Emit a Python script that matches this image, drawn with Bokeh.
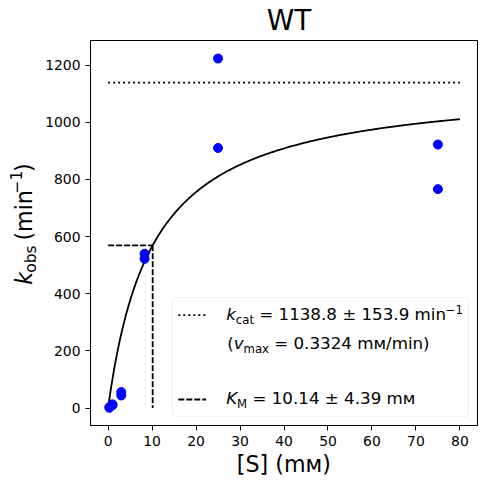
import numpy as np
from bokeh.plotting import figure
from bokeh.models import Label, BoxAnnotation, FixedTicker, Range1d
from bokeh.layouts import column, row
from bokeh.embed import file_html
from bokeh.resources import INLINE

# ---------------- data ----------------
title_text = "WT"
x_label_text = "[S] (mᴍ)"
S_mM = [0.3, 0.3, 1.0, 1.0, 3.0, 3.0, 8.3, 8.3, 25.0, 25.0, 75.0, 75.0]
k_obs = [1, 3, 10, 13, 44, 56, 522, 540, 910, 1223, 766, 922]
kcat = 1138.8
kcat_err = 153.9
vmax = 0.3324
KM = 10.14
KM_err = 4.39
S_fit_max = 80
x_ticks = [0, 10, 20, 30, 40, 50, 60, 70, 80]
y_ticks = [0, 200, 400, 600, 800, 1000, 1200]

# Michaelis-Menten curve from the fitted parameters
S_fit = np.linspace(0, S_fit_max, 400)
k_fit = kcat * S_fit / (KM + S_fit)

# ---------------- layout constants (page pixels) ----------------
FONT = "DejaVu Sans"
X0, X1 = -4.0, 84.0
Y0, Y1 = -61.0, 1286.0
FL, FT, FW, FH = 89, 40, 388, 385      # frame in page pixels
PW, PH = 486, 484
TOP_H = 39          # strip holding the title
LEFT_W = 42         # strip holding the y label
MAIN_BOTTOM = 27    # room for x tick labels
MAIN_W = PW - LEFT_W
MAIN_H = (FT - TOP_H) + FH + MAIN_BOTTOM
BOT_H = PH - TOP_H - MAIN_H   # strip holding the x label
BASE_CORR = 0.42    # em correction for Bokeh's alphabetic baseline


def strip(w, h):
    f = figure(width=w, height=h, output_backend="svg", toolbar_location=None,
               x_range=Range1d(0, w), y_range=Range1d(h, 0),
               x_axis_type=None, y_axis_type=None,
               min_border=0, min_border_left=0, min_border_right=0,
               min_border_top=0, min_border_bottom=0)
    f.title.visible = False
    f.grid.visible = False
    f.outline_line_color = None
    f.background_fill_color = "white"
    f.border_fill_color = "white"
    return f


top = strip(PW, TOP_H)
left = strip(LEFT_W, MAIN_H)
bottom = strip(PW, BOT_H)

p = figure(width=MAIN_W, height=MAIN_H, output_backend="svg", toolbar_location=None,
           x_range=Range1d(X0, X1), y_range=Range1d(Y0, Y1),
           min_border_left=FL - LEFT_W, min_border_top=FT - TOP_H,
           min_border_right=PW - FL - FW, min_border_bottom=MAIN_BOTTOM)
p.title.visible = False
p.grid.visible = False
p.outline_line_color = "black"
p.outline_line_width = 1
p.background_fill_color = "white"
p.border_fill_color = "white"

p.xaxis.ticker = FixedTicker(ticks=x_ticks)
p.yaxis.ticker = FixedTicker(ticks=y_ticks)
for ax in (p.xaxis, p.yaxis):
    ax.major_tick_out = 5
    ax.major_tick_in = 0
    ax.minor_tick_out = 0
    ax.minor_tick_in = 0
    ax.axis_line_color = "black"
    ax.major_tick_line_color = "black"
    ax.major_label_text_font = FONT
    ax.major_label_text_font_size = "13.9px"
    ax.major_label_text_color = "black"
    ax.major_label_standoff = 5


def dx(px):
    return X0 + (px - FL) / FW * (X1 - X0)


def dy(py):
    return Y1 - (py - FT) / FH * (Y1 - Y0)


ADV = {' ': 0.318, '(': 0.390, ')': 0.390, '[': 0.390, ']': 0.390, '.': 0.318,
       '/': 0.337, '=': 0.838, '±': 0.838, '−': 0.838, 'a': 0.613, 'b': 0.635,
       'c': 0.550, 'i': 0.278, 'k': 0.579, 'm': 0.974, 'n': 0.634, 'o': 0.612,
       's': 0.521, 't': 0.392, 'v': 0.592, 'x': 0.592, 'M': 0.863, 'K': 0.656,
       'S': 0.635, 'ᴍ': 0.72}
for d in "0123456789":
    ADV[d] = 0.636


def tw(s, size):
    return sum(ADV.get(c, 0.6) for c in s) * size


def run(fig, fx, fy, parts, x, base, size, angle=0.0, align="left"):
    """Lay out rich text pieces; x/base are page pixels, fx/fy map to fig coords."""
    total = sum(tw(t, size * 0.7 if k in ("sub", "sup") else size) for t, k in parts)
    pos = -total / 2 if align == "center" else 0.0
    for txt, kind in parts:
        s = size * 0.7 if kind in ("sub", "sup") else size
        shift = {"sub": 0.2 * size, "sup": -0.45 * size}.get(kind, 0.0) - BASE_CORR * s
        lead = len(txt) - len(txt.lstrip(" "))
        pos += tw(" " * lead, s)
        body = txt.strip(" ")
        if angle == 0:
            px, py = x + pos, base + shift
        else:
            px, py = x + shift, base - pos
        fig.add_layout(Label(x=fx(px), y=fy(py), text=body, text_font=FONT,
                             text_font_size=f"{s:.1f}px",
                             text_font_style="italic" if kind == "i" else "normal",
                             text_align="left", text_baseline="alphabetic",
                             angle=angle, text_color="black"))
        pos += tw(txt.lstrip(" "), s)


# ---------------- data marks ----------------
p.line([0, S_fit_max], [kcat, kcat], line_color="black", line_width=1.8, line_dash="2 3")
p.line([0, KM], [kcat / 2, kcat / 2], line_color="black", line_width=1.8, line_dash="6 2")
p.line([KM, KM], [kcat / 2, 0], line_color="black", line_width=1.8, line_dash="6 2")
p.line(S_fit, k_fit, line_color="black", line_width=1.8)
p.scatter(S_mM, k_obs, size=9, fill_color="blue", line_color="blue")

# ---------------- legend ----------------
p.add_layout(BoxAnnotation(left=dx(171), right=dx(468), top=dy(297), bottom=dy(416),
                           fill_color="white", fill_alpha=0.8, line_color="#cccccc",
                           line_width=1, border_radius=3, level="underlay"))
p.line([dx(177), dx(205)], [dy(314.7), dy(314.7)], line_color="black", line_width=1.8, line_dash="2 3")
p.line([dx(177), dx(205)], [dy(399), dy(399)], line_color="black", line_width=1.8, line_dash="6 2")

LS = 16.7
run(p, dx, dy, [("k", "i"), ("cat", "sub"), (f" = {kcat:.1f} ± {kcat_err:.1f} min", "n"), ("−1", "sup")],
    225, 321, LS)
run(p, dx, dy, [("(", "n"), ("v", "i"), ("max", "sub"), (f" = {vmax:.4f} mᴍ/min)", "n")],
    226, 350, LS)
run(p, dx, dy, [("K", "i"), ("M", "sub"), (f" = {KM:.2f} ± {KM_err:.2f} mᴍ", "n")],
    225, 405, LS)

# ---------------- title and axis labels (in their own strips) ----------------
run(top, lambda v: v, lambda v: v, [(title_text, "n")], 283, 32, 27.8, align="center")
run(bottom, lambda v: v, lambda v: v - (PH - BOT_H), [(x_label_text, "n")], 283, 473, 22.2,
    align="center")
run(left, lambda v: v, lambda v: v - TOP_H,
    [("k", "i"), ("obs", "sub"), (" (min", "n"), ("−1", "sup"), (")", "n")],
    32.5, 301, 22.2, angle=np.pi / 2)

layout = column(top, row(left, p), bottom)
open("out.html", "w").write(file_html(layout, INLINE))
